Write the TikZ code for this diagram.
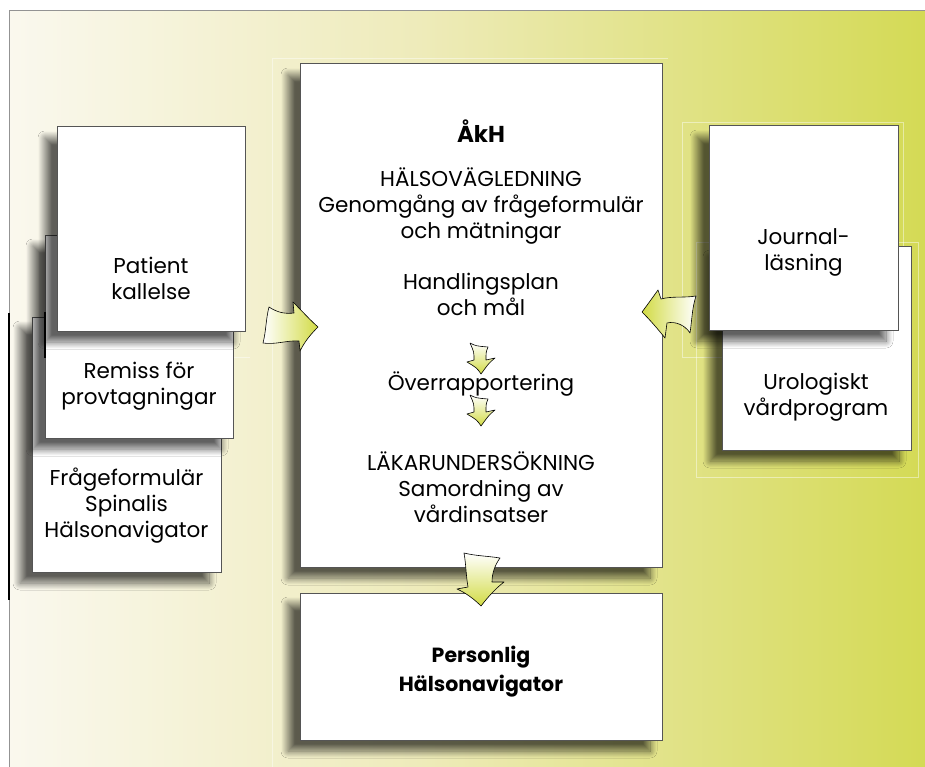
\documentclass[tikz,border=0pt]{standalone}
\usepackage{fontspec}
\setmainfont{Poppins}
\usetikzlibrary{shadows.blur}
\definecolor{bgL}{HTML}{FAF8EE}
\definecolor{bgM}{HTML}{EEEBBA}
\definecolor{bgR}{HTML}{D4DA55}
\definecolor{agreen}{HTML}{D2DB45}
\definecolor{edge}{HTML}{555555}
\tikzset{
  box/.style={draw=edge, line width=1pt, fill=white, rectangle, inner sep=0pt,
    blur shadow={shadow xshift=-12pt, shadow yshift=-11pt, shadow blur radius=7pt, shadow blur steps=14, shadow opacity=62}},
  txt/.style={align=center, font=\fontsize{21.5}{26}\selectfont, text=black, inner sep=0pt},
  btxt/.style={align=center, font=\fontsize{20.5}{29}\selectfont\bfseries, text=black, inner sep=0pt},
  barrow/.style={draw=black, line width=0.6pt, line join=round},
  faint/.style={draw=white, opacity=0.45, line width=0.6pt}
}
\begin{document}
\begin{tikzpicture}[x=1pt,y=-1pt]
\useasboundingbox (0,0) rectangle (925,767);
\fill[white] (0,0) rectangle (925,767);
\shade[left color=bgL, right color=bgM] (9,11) rectangle (420,767);
\shade[left color=bgM, right color=bgR] (419.5,11) rectangle (925,767);
\draw[gray!85, line width=1pt] (9,767) -- (9,11) -- (925,11);
\draw[black, line width=2pt] (9,313) -- (9,600);

% faint highlight frames
\draw[faint] (682,122) rectangle (903,357);
\draw[faint] (696,242) rectangle (918,477);
\draw[faint] (272,767) -- (272,58) -- (668,58);
\draw[faint] (30,357) -- (250,357);

% left stack
\node[box, minimum width=189pt, minimum height=255pt] (frage) at (126.5,444.5) {};
\node[box, minimum width=188pt, minimum height=203pt] (remiss) at (139,336.5) {};
\node[box, minimum width=188pt, minimum height=204pt] (patient) at (151,229) {};
\draw[black, line width=2pt] (45,312) -- (45,358);
\node[txt] (tpatient) at (151,278.5) {Patient\\kallelse};
\node[txt] (tremiss) at (139,386.5) {Remiss för\\provtagningar};
\node[txt] (tfrage) at (126.5,506) {Frågeformulär\\Spinalis\\Hälsonavigator};

% right stack
\node[box, minimum width=189pt, minimum height=204pt] (uro) at (816.5,348) {};
\node[box, minimum width=189pt, minimum height=204pt] (journal) at (803.5,228) {};
\node[txt] (tjournal) at (803.5,252) {Journal-\\läsning};
\node[txt] (turo) at (816,397) {Urologiskt\\vårdprogram};

% center
\node[box, minimum width=362pt, minimum height=503pt] (akh) at (481,315.5) {};
\node[box, minimum width=362pt, minimum height=147pt] (phn) at (481,666.5) {};
\node[btxt, font=\fontsize{23}{29}\selectfont\bfseries] (takh) at (481,131) {ÅkH};
\node[txt] (thv) at (481,206) {HÄLSOVÄGLEDNING\\Genomgång av frågeformulär\\och mätningar};
\node[txt] (thp) at (481,294.5) {Handlingsplan\\och mål};
\node[txt] (tov) at (481,384) {Överrapportering};
\node[txt] (tlu) at (481,487) {LÄKARUNDERSÖKNING\\Samordning av\\vårdinsatser};
\node[btxt] (tphn) at (481,671.5) {Personlig\\Hälsonavigator};

% arrow left -> center
\path[barrow, left color=white, right color=agreen]
  (269,307) .. controls (278,313) and (286,314) .. (294,313) -- (293,302)
  .. controls (302,311) and (310,320) .. (318,327)
  .. controls (311,334) and (305,341) .. (300,351) -- (299,341)
  .. controls (288,340) and (275,345) .. (263,343)
  .. controls (266,332) and (266,318) .. (269,307) -- cycle;

% arrow right -> center
\path[barrow, left color=agreen, right color=white]
  (642,312) .. controls (648,304) and (653,297) .. (658,290) -- (661,299)
  .. controls (672,296) and (684,298) .. (696,296)
  .. controls (692,308) and (692,320) .. (690,333)
  .. controls (685,325) and (675,321) .. (667,323) -- (665,338)
  .. controls (657,328) and (650,320) .. (642,312) -- cycle;

% small down arrows
\path[barrow, top color=white, bottom color=agreen]
  (470,343) .. controls (476,346) .. (488,347) .. controls (486,352) .. (486,360) -- (495,358)
  .. controls (489,363) .. (481,374) .. controls (477,368) .. (467,362) -- (474,360)
  .. controls (474,352) .. (470,343) -- cycle;
\path[barrow, top color=white, bottom color=agreen]
  (470,395) .. controls (476,398) .. (488,399) .. controls (486,404) .. (486,412) -- (495,410)
  .. controls (489,415) .. (481,426) .. controls (477,420) .. (467,414) -- (474,412)
  .. controls (474,404) .. (470,395) -- cycle;

% big down arrow
\path[barrow, top color=white, bottom color=agreen]
  (464,553) .. controls (476,556) and (488,556) .. (500,558)
  .. controls (495,565) and (492,573) .. (492,582) -- (504,582)
  .. controls (495,589) and (488,597) .. (481,606)
  .. controls (474,599) and (466,593) .. (457,589) -- (468,587)
  .. controls (466,576) and (466,564) .. (464,553) -- cycle;
\end{tikzpicture}
\end{document}
